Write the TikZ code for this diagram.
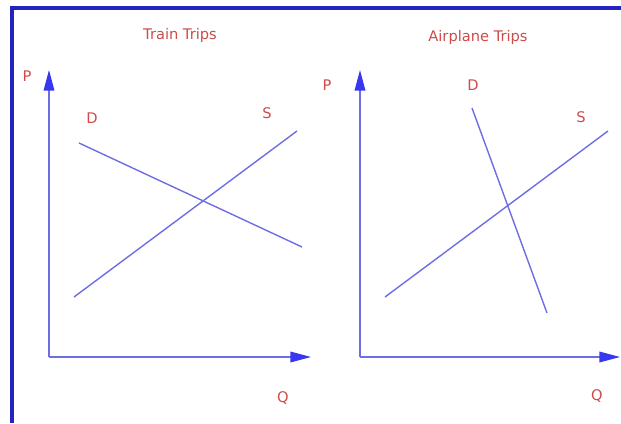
\documentclass[tikz,border=0pt]{standalone}
\usepackage{fontspec}
\setmainfont{DejaVu Sans}
\usetikzlibrary{arrows.meta}

\definecolor{lblred}{RGB}{205,75,75}
\definecolor{axisblue}{RGB}{55,55,240}
\definecolor{curveblue}{RGB}{110,110,228}
\definecolor{frameblue}{RGB}{35,35,190}

\begin{document}
\begin{tikzpicture}[
    x=0.03cm, y=-0.03cm,
    lbl/.style={text=lblred, font=\fontsize{12.5}{15}\selectfont, inner sep=0pt},
    axis/.style={-{Triangle[length=0.62cm, width=0.32cm, color=axisblue]}, draw=curveblue, line width=1.2pt},
    curve/.style={draw=curveblue, line width=1.2pt},
    frame/.style={draw=frameblue, line width=2.6pt}
]
\useasboundingbox (0,0) rectangle (621,423);

% frame
\coordinate (fb) at (12,423);
\coordinate (fc) at (12,8);
\coordinate (fr) at (621,8);
\draw [frame] (fb) -- (fc) -- (fr);

% train trips
\node (tt) [lbl] at (180,35) {Train Trips};
\coordinate (o1) at (49,357);
\coordinate (y1) at (49,70);
\coordinate (x1) at (311,357);
\node (p1) [lbl] at (27,76) {P};
\node (q1) [lbl] at (283,398) {Q};
\draw [axis] (o1) -- (y1);
\draw [axis] (o1) -- (x1);

\coordinate (d1a) at (79,143);
\coordinate (d1b) at (302,247);
\coordinate (s1a) at (74,297);
\coordinate (s1b) at (297,131);
\node (dl1) [lbl] at (92,118) {D};
\node (sl1) [lbl] at (267,113) {S};
\draw [curve] (d1a) -- (d1b);
\draw [curve] (s1a) -- (s1b);

% airplane trips
\node (at) [lbl] at (478,37) {Airplane Trips};
\coordinate (o2) at (360,357);
\coordinate (y2) at (360,70);
\coordinate (x2) at (620,357);
\node (p2) [lbl] at (327,85) {P};
\node (q2) [lbl] at (597,396) {Q};
\draw [axis] (o2) -- (y2);
\draw [axis] (o2) -- (x2);

\coordinate (d2a) at (472,108);
\coordinate (d2b) at (547,313);
\coordinate (s2a) at (385,297);
\coordinate (s2b) at (608,131);
\node (dl2) [lbl] at (473,85) {D};
\node (sl2) [lbl] at (581,117) {S};
\draw [curve] (d2a) -- (d2b);
\draw [curve] (s2a) -- (s2b);

\end{tikzpicture}
\end{document}
